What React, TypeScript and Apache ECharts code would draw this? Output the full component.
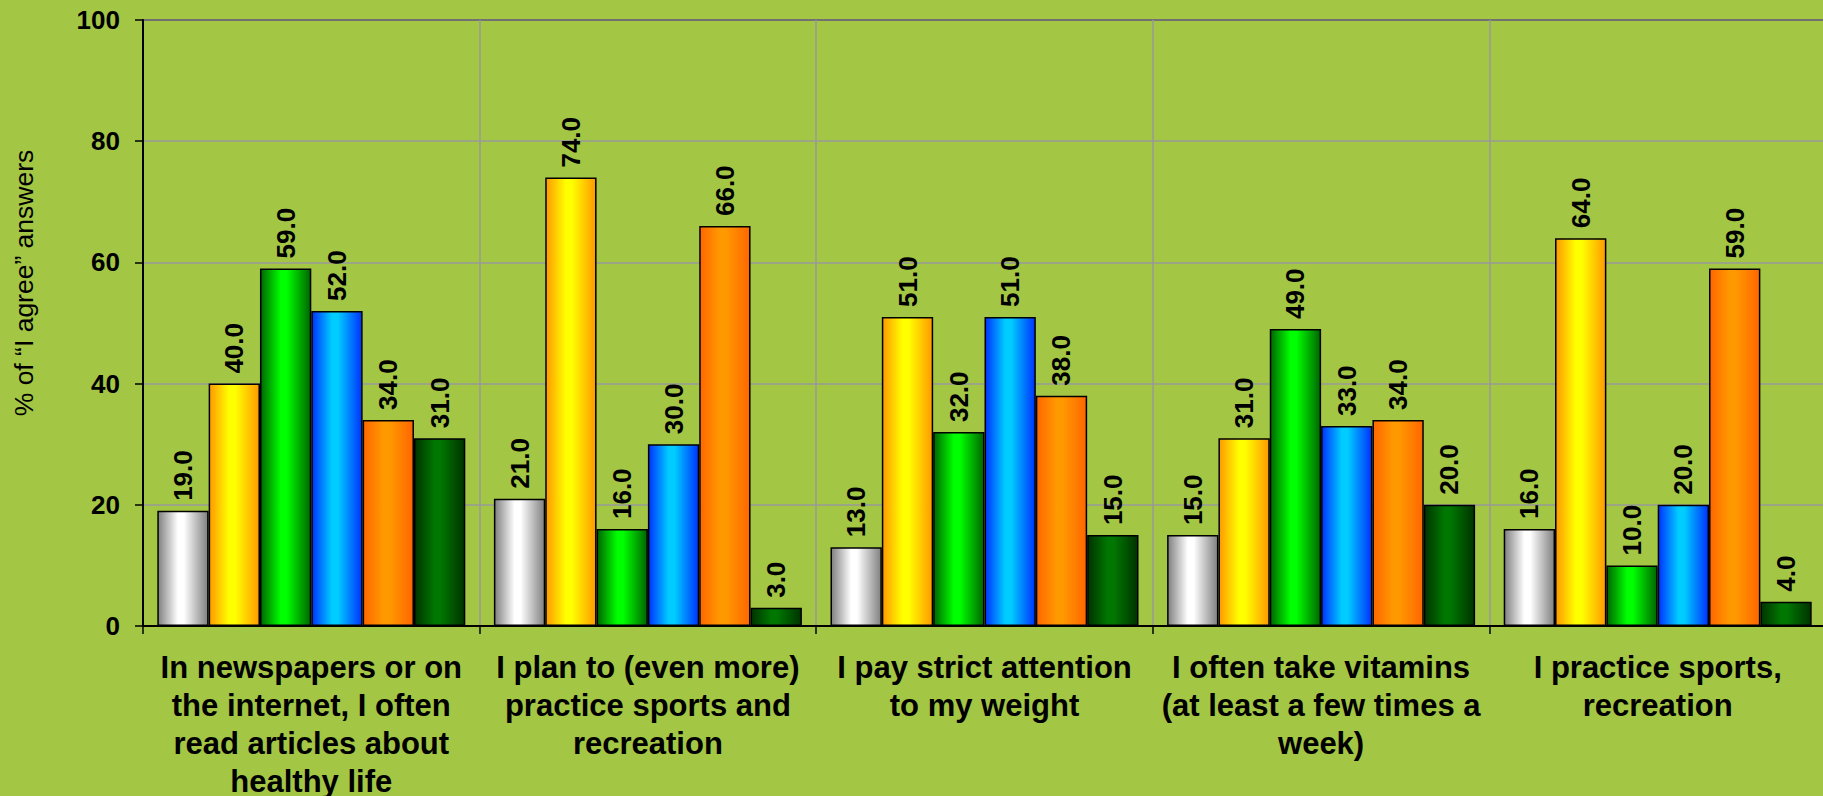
import React, { useEffect, useRef } from "react";
import * as echarts from "echarts";

const categories = [
  "In newspapers or on\nthe internet, I often\nread articles about\nhealthy life",
  "I plan to (even more)\npractice sports and\nrecreation",
  "I pay strict attention\nto my weight",
  "I often take vitamins\n(at least a few times a\nweek)",
  "I practice sports,\nrecreation",
];

const seriesNames = ["Series 1", "Series 2", "Series 3", "Series 4", "Series 5", "Series 6"];

const grayValues = [19, 21, 13, 15, 16];
const yellowValues = [40, 74, 51, 31, 64];
const greenValues = [59, 16, 32, 49, 10];
const blueValues = [52, 30, 51, 33, 20];
const orangeValues = [34, 66, 38, 34, 59];
const darkGreenValues = [31, 3, 15, 20, 4];

const yAxisTitle = "% of \u201cI agree\u201d answers";

const FONT = "'Liberation Sans', Arial, sans-serif";

const gradientPairs: [string, string][] = [
  ["#808080", "#ffffff"],
  ["#ff9900", "#ffff00"],
  ["#006600", "#00ff00"],
  ["#0033ff", "#00ccff"],
  ["#ff6600", "#ff9900"],
  ["#003300", "#007700"],
];

export default function App() {
  const ref = useRef<HTMLDivElement>(null);

  useEffect(() => {
    if (!ref.current) return;
    const chart = echarts.init(ref.current, undefined, { renderer: "svg" });
    const allValues = [grayValues, yellowValues, greenValues, blueValues, orangeValues, darkGreenValues];

    const series = allValues.map((vals, i) => ({
      name: seriesNames[i],
      type: "bar" as const,
      data: vals,
      barGap: "0%",
      barCategoryGap: "8.5%",
      itemStyle: {
        color: new echarts.graphic.LinearGradient(0, 0, 1, 0, [
          { offset: 0, color: gradientPairs[i][0] },
          { offset: 0.4, color: gradientPairs[i][1] },
          { offset: 0.52, color: gradientPairs[i][1] },
          { offset: 1, color: gradientPairs[i][0] },
        ]),
        borderColor: "#000000",
        borderWidth: 1.5,
      },
      label: {
        show: true,
        position: "top" as const,
        rotate: 90,
        align: "left" as const,
        verticalAlign: "middle" as const,
        distance: 10,
        fontFamily: FONT,
        fontWeight: "bold" as const,
        fontSize: 26,
        color: "#000000",
        formatter: (p: any) => Number(p.value).toFixed(1),
      },
    }));

    chart.setOption({
      animation: false,
      backgroundColor: "#a3c644",
      grid: {
        left: 143,
        top: 20,
        width: 1683,
        height: 606,
        show: true,
        borderColor: "#000000",
        borderWidth: 2,
        backgroundColor: "transparent",
        containLabel: false,
        outerBoundsMode: "none",
      },
      graphic: [
        {
          type: "text",
          x: 24,
          y: 283,
          rotation: Math.PI / 2,
          style: {
            text: yAxisTitle,
            fontFamily: FONT,
            fontSize: 26.5,
            fill: "#000000",
            align: "center",
            verticalAlign: "middle",
          },
        },
      ],
      xAxis: {
        type: "category",
        data: categories,
        axisLine: { show: true, lineStyle: { color: "#000000", width: 2 } },
        axisTick: { show: true, length: 8, lineStyle: { color: "#000000", width: 1.5 } },
        splitLine: { show: true, lineStyle: { color: "#999999", width: 1.5 } },
        axisLabel: {
          interval: 0,
          margin: 22,
          fontFamily: FONT,
          fontWeight: "bold",
          fontSize: 31,
          lineHeight: 38,
          color: "#000000",
          align: "center",
          verticalAlign: "top",
        },
      },
      yAxis: {
        type: "value",
        min: 0,
        max: 100,
        interval: 20,
        axisLine: { show: true, lineStyle: { color: "#000000", width: 2 } },
        axisTick: { show: true, length: 8, lineStyle: { color: "#000000", width: 1.5 } },
        splitLine: { show: true, lineStyle: { color: "#999999", width: 1.5 } },
        axisLabel: {
          margin: 23,
          fontFamily: FONT,
          fontWeight: "bold",
          fontSize: 26,
          color: "#000000",
        },
      },
      series,
    });

    return () => chart.dispose();
  }, []);

  return (
    <div
      ref={ref}
      style={{ position: "absolute", left: 0, top: 0, width: 1823, height: 796, background: "#a3c644" }}
    />
  );
}
